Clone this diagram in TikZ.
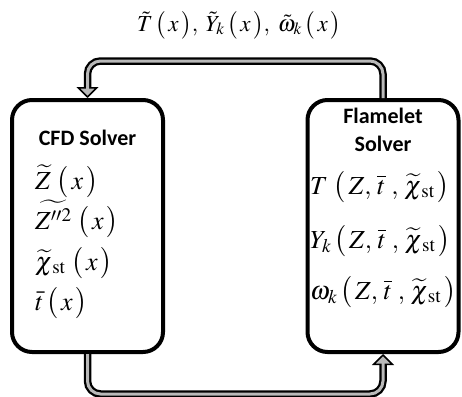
\documentclass[tikz,border=0pt]{standalone}
\usepackage{mathptmx}
\usepackage{fontspec}
\setmainfont{Liberation Serif}
\newfontfamily\titlefont{Carlito}
\usetikzlibrary{positioning,arrows.meta}

\tikzset{
    solver/.style={draw=black, line width=4pt, rounded corners=20pt,
        minimum width=151pt, minimum height=252pt, inner sep=0pt},
    heading/.style={font=\titlefont\bfseries\fontsize{22}{28}\selectfont,
        align=center, inner sep=0pt},
    field/.style={font=\fontsize{26}{30}\selectfont, inner sep=0pt, anchor=base west},
    flow/.style={line width=7.5pt, draw=black, rounded corners=13pt,
        -{Triangle[length=11pt, width=22pt, line width=1.5pt, fill=gray!55]},
        postaction={draw=gray!55, line width=3pt, -, shorten >=5pt}},
}
\newcommand{\chist}{\widetilde{\chi}_{\,\mathrm{st}}}
\newcommand{\arglist}{\bigl(\,Z,\,\overline{t}\;,\,\chist\,\bigr)}

\begin{document}
\begin{tikzpicture}[x=1pt, y=-1pt]
    \useasboundingbox (0,0) rectangle (462,396);

    % the two solvers
    \node[solver] (cfd) at (87.5,226) {};
    \node[solver] (flm) at (383,226) {};

    % CFD side
    \node[heading, below=32pt of cfd.north] (cfdtitle) {CFD Solver};
    \node[field] (zmean) at (35,189) {$\widetilde{Z}\;\bigl(\,x\,\bigr)$};
    \node[field] (zvar) at (35,229) {$\widetilde{Z''^{2}}\;\bigl(\,x\,\bigr)$};
    \node[field] (chimean) at (35,270) {$\chist\;\bigl(\,x\,\bigr)$};
    \node[field] (tmean) at (35,310) {$\bar{t}\,\bigl(\,x\,\bigr)$};

    % flamelet side
    \node[heading, below=10pt of flm.north] (flmtitle) {Flamelet\\Solver};
    \node[field] (ftemp) at (310,194) {$T\;\arglist$};
    \node[field] (fspec) at (310,248) {$Y_k\,\arglist$};
    \node[field] (frate) at (310,299) {$\omega_k\,\arglist$};

    % exchange between the solvers
    \draw[flow] (flm.north) -- ++(0,-37) -| (cfd.north);
    \draw[flow] (cfd.south) -- ++(0,40) -| (flm.south);
    \node[font=\fontsize{23}{26}\selectfont, inner sep=0pt, anchor=base] (backdata) at (239,31)
        {$\tilde{T}\,\bigl(\,x\,\bigr),\;\tilde{Y}_k\,\bigl(\,x\,\bigr),\;\tilde{\omega}_k\,\bigl(\,x\,\bigr)$};

\end{tikzpicture}
\end{document}
